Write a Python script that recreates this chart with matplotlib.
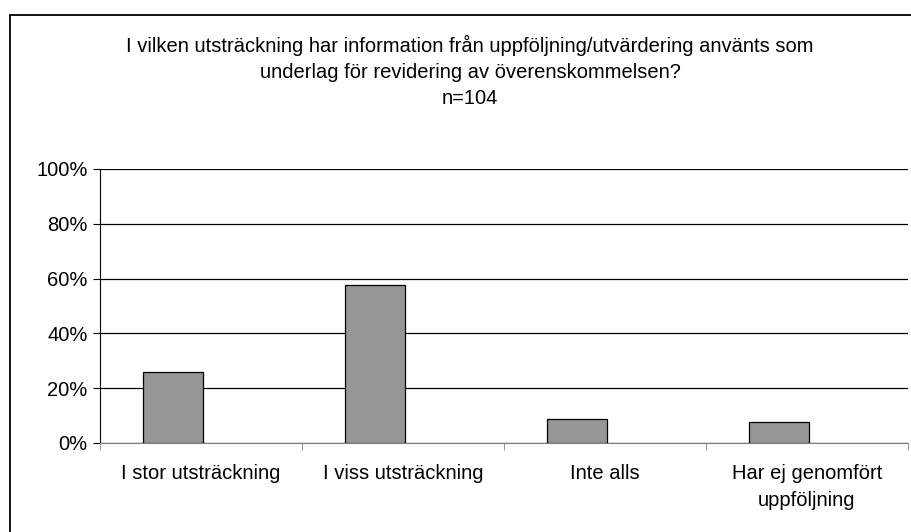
import matplotlib.pyplot as plt
from matplotlib.patches import Rectangle
from matplotlib.ticker import FixedLocator, NullFormatter

# Data (n=104)
categories = ['I stor utsträckning', 'I viss utsträckning', 'Inte alls', 'Har ej genomfört\nuppföljning']
values = [26.0, 57.7, 8.7, 7.7]
yticks = [0, 20, 40, 60, 80, 100]
title_lines = ['I vilken utsträckning har information från uppföljning/utvärdering använts som',
               'underlag för revidering av överenskommelsen?',
               'n=104']

plt.rcParams['font.family'] = ['Liberation Sans', 'DejaVu Sans']

W, H = 912, 532
fs = 14.5
fig = plt.figure(figsize=(W / 100, H / 100), dpi=100)

# chart border (right and bottom edges fall outside the image)
fig.patches.append(Rectangle((10 / W, -0.1), 1.2, (H - 14.5) / H + 0.1, transform=fig.transFigure,
                             fill=False, edgecolor='black', linewidth=1.3))

ax = fig.add_axes([100 / W, (H - 443) / H, 808 / W, 274 / H])
x = [i - 0.139 for i in range(len(categories))]
ax.bar(x, values, width=0.294, color='#969696', edgecolor='black', linewidth=0.9, zorder=3)

ax.set_xlim(-0.5, len(categories) - 0.5)
ax.set_ylim(0, 100)
ax.set_yticks(yticks)
ax.set_yticklabels([f'{v}%' for v in yticks], fontsize=fs)
ax.set_xticks(range(len(categories)))
ax.set_xticklabels(categories, fontsize=fs, linespacing=1.55)
ax.tick_params(axis='x', length=0, pad=15)
ax.xaxis.set_minor_locator(FixedLocator([i - 0.5 for i in range(len(categories) + 1)]))
ax.xaxis.set_minor_formatter(NullFormatter())
ax.tick_params(axis='x', which='minor', length=5, color='#808080', direction='out')
ax.tick_params(axis='y', length=5, direction='out', pad=4)

ax.grid(axis='y', color='black', linewidth=0.9, zorder=0)
for s in ['top', 'right']:
    ax.spines[s].set_visible(False)
ax.spines['bottom'].set_color('#808080')
ax.spines['left'].set_color('black')

ys = [45, 72, 99]
for t, yy in zip(title_lines, ys):
    fig.text(470 / W, 1 - yy / H, t, ha='center', va='center', fontsize=fs)

fig.savefig('out.png', dpi=100)
